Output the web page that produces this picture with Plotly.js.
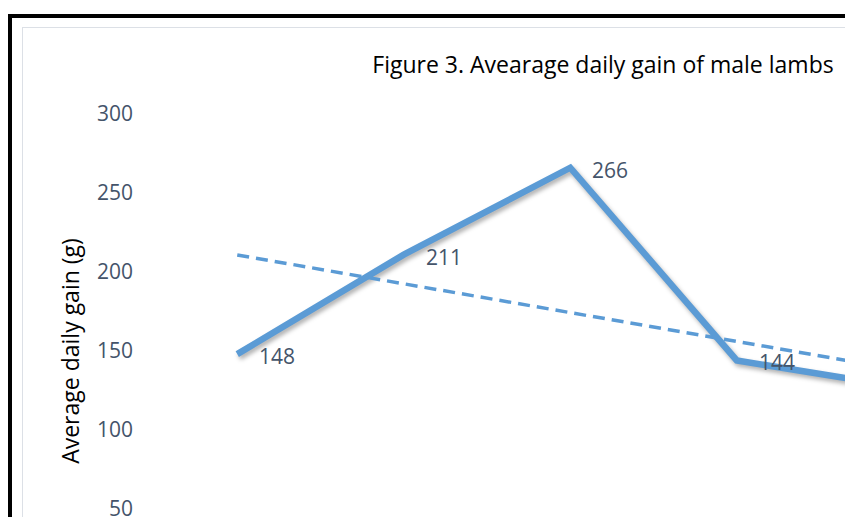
<!DOCTYPE html>
<html>
<head>
<meta charset="utf-8">
<script src="https://cdn.plot.ly/plotly-3.0.1.min.js"></script>
<style>
  html, body { margin: 0; padding: 0; overflow: hidden; background: #fff; width: 845px; height: 517px; }
  #frame { position: absolute; left: 8px; top: 14px; width: 1300px; height: 900px;
           border-left: 4px solid #000; border-top: 4px solid #000; }
  #chartArea { position: absolute; left: 22px; top: 27px; width: 1160px; height: 640px;
               border-left: 1.5px solid #DCE0E6; border-top: 1.5px solid #DCE0E6; }
  #chart { position: absolute; left: 0; top: 0; width: 1160px; height: 640px; }
  .scatterlayer .trace:first-child path.js-line { filter: drop-shadow(2px 3px 2px rgba(0,0,0,0.30)); }
</style>
</head>
<body>
<div id="frame"></div>
<div id="chartArea"><div id="chart"></div></div>
<script>
// Data (the last two periods are outside the visible crop; estimated from the line and trend)
const periods = ['P1', 'P2', 'P3', 'P4', 'P5', 'P6'];
const dailyGain = [148, 211, 266, 144, 127, 95];
const yTicks = [0, 50, 100, 150, 200, 250, 300];

const titleText = 'Figure 3. Avearage daily gain of male lambs';
const yTitle = 'Average daily gain (g)';

// Linear trendline (as Excel computes it) from the series values
const n = dailyGain.length;
const idx = dailyGain.map((_, i) => i + 1);
const mx = idx.reduce((a, b) => a + b, 0) / n;
const my = dailyGain.reduce((a, b) => a + b, 0) / n;
let sxy = 0, sxx = 0;
idx.forEach((x, i) => { sxy += (x - mx) * (dailyGain[i] - my); sxx += (x - mx) * (x - mx); });
const slope = sxy / sxx;
const intercept = my - slope * mx;
const trend = idx.map(x => intercept + slope * x);

const blue = '#5B9BD5';
const labelColor = '#44546A';
const fontFam = '"Open Sans", "Noto Sans", Arial, sans-serif';

const traces = [
  {
    x: periods, y: dailyGain, type: 'scatter', mode: 'lines',
    line: { color: blue, width: 6.5, shape: 'linear' },
    hoverinfo: 'skip', showlegend: false
  },
  {
    x: periods, y: trend, type: 'scatter', mode: 'lines',
    line: { color: blue, width: 3.5, dash: '12px,7px' },
    hoverinfo: 'skip', showlegend: false
  }
];

const annotations = periods.map((p, i) => ({
  x: p, y: dailyGain[i], xref: 'x', yref: 'y',
  text: String(dailyGain[i]), showarrow: false,
  xanchor: 'left', yanchor: 'middle', xshift: 20, yshift: -2,
  font: { family: fontFam, size: 21, color: labelColor }
}));

const layout = {
  width: 1160, height: 640,
  margin: { l: 131, r: 30, t: 86, b: 80 },
  paper_bgcolor: 'rgba(0,0,0,0)', plot_bgcolor: 'rgba(0,0,0,0)',
  title: {
    text: titleText, x: 0.5, xanchor: 'center', y: 1 - 37 / 640, yanchor: 'middle',
    font: { family: fontFam, size: 23, color: '#000' }
  },
  xaxis: {
    type: 'category', categoryorder: 'array', categoryarray: periods,
    range: [-0.5, periods.length - 0.5],
    showgrid: false, zeroline: false, showline: false, ticks: '',
    showticklabels: false
  },
  yaxis: {
    range: [0, 300], tickvals: yTicks, ticktext: yTicks.map(String),
    showgrid: false, zeroline: false, showline: false, ticks: '',
    ticklabelstandoff: 20,
    tickfont: { family: fontFam, size: 21, color: labelColor },
    title: { text: yTitle, standoff: 10, font: { family: fontFam, size: 23, color: '#000' } }
  },
  annotations: annotations,
  showlegend: false
};

Plotly.newPlot('chart', traces, layout, { staticPlot: true, displayModeBar: false });
</script>
</body>
</html>
